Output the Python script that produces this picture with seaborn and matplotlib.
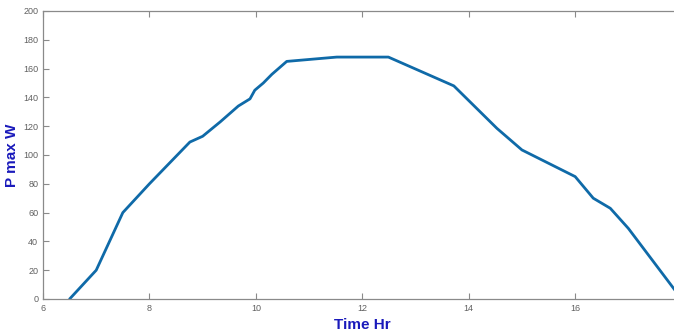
import numpy as np
import pandas as pd
import matplotlib
matplotlib.use("Agg")
import matplotlib.pyplot as plt
import seaborn as sns

# hours of day vs max power (W)
time_hr = [6.5, 7.0, 7.5, 8.0, 8.76, 9.0, 9.33, 9.67, 9.89, 9.98, 10.14, 10.3,
           10.58, 11.52, 12.49, 13.72, 14.53, 15.0, 16.0, 16.34, 16.66, 17.0, 18.0]
p_max = [0, 20, 60, 80, 109, 113, 123, 134, 139, 145, 150, 156,
         165, 168, 168, 148, 118.5, 103.5, 85, 70, 63, 49, 0]

x_ticks = [6, 8, 10, 12, 14, 16]
y_ticks = list(range(0, 201, 20))

df = pd.DataFrame({'Time Hr': time_hr, 'P max W': p_max})

sns.set_style("ticks")
plt.rcParams['font.family'] = ['Liberation Sans', 'DejaVu Sans']

fig = plt.figure(figsize=(6.74, 3.31), dpi=100)
ax = fig.add_axes([43 / 674, 32 / 331, 638.6 / 674, 288 / 331])

sns.lineplot(data=df, x='Time Hr', y='P max W', color='#0f6aa8', linewidth=2.0, ax=ax)

ax.set_xlim(6, 18)
ax.set_ylim(0, 200)
ax.set_xticks(x_ticks)
ax.set_yticks(y_ticks)
ax.tick_params(direction='in', length=4, width=0.8, colors='#8a8a8a',
               labelsize=6.5, labelcolor='#606060', top=True, right=True)
for s in ax.spines.values():
    s.set_visible(True)
    s.set_color('#8a8a8a')
    s.set_linewidth(0.9)

ax.set_xlabel('Time Hr', color='#1a1abb', fontweight='bold', fontsize=11, labelpad=4)
ax.set_ylabel('P max W', color='#1a1abb', fontweight='bold', fontsize=11)
ax.yaxis.set_label_coords(-0.038, 0.50)

fig.savefig('out.png', dpi=100)
